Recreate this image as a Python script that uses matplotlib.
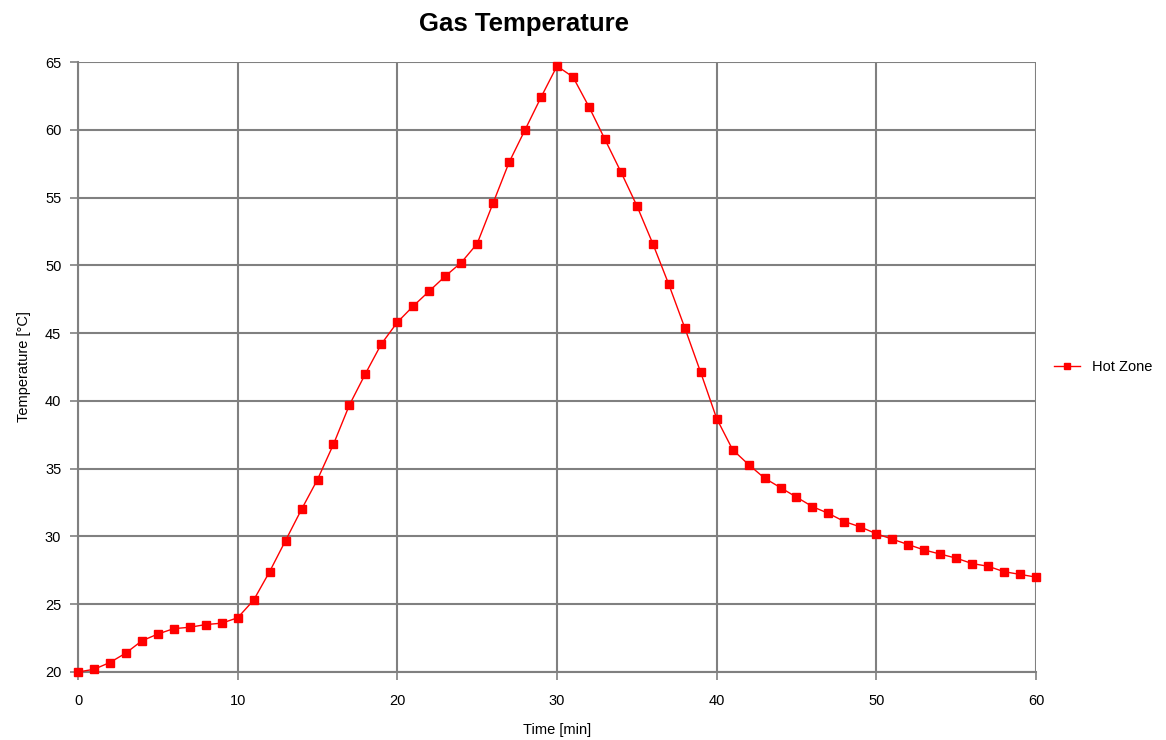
import numpy as np
import matplotlib.pyplot as plt

plt.rcParams['font.family'] = ['Liberation Sans', 'DejaVu Sans']

time_min = list(range(0, 61))
hot_zone = [
    20.0, 20.2, 20.7, 21.4, 22.3, 22.8, 23.2, 23.3, 23.5, 23.6,
    24.0, 25.3, 27.4, 29.7, 32.0, 34.2, 36.8, 39.7, 42.0, 44.2,
    45.8, 47.0, 48.1, 49.2, 50.2, 51.6, 54.6, 57.6, 60.0, 62.4,
    64.7, 63.9, 61.7, 59.3, 56.9, 54.4, 51.6, 48.6, 45.4, 42.1,
    38.7, 36.4, 35.3, 34.3, 33.6, 32.9, 32.2, 31.7, 31.1, 30.7,
    30.2, 29.8, 29.4, 29.0, 28.7, 28.4, 28.0, 27.8, 27.4, 27.2,
    27.0,
]
x_ticks = [0, 10, 20, 30, 40, 50, 60]
y_ticks = [20, 25, 30, 35, 40, 45, 50, 55, 60, 65]

fig = plt.figure(figsize=(11.66, 7.4), dpi=100)
ax = fig.add_axes([0.0669, 0.0919, 0.8216, 0.8243])

ax.plot(time_min, hot_zone, color="red", lw=1, marker="s", markersize=5.5,
        label="Hot Zone", clip_on=False, zorder=3)

ax.set_xlim(0, 60)
ax.set_ylim(20, 65)
ax.set_xticks(x_ticks)
ax.set_yticks(y_ticks)
ax.grid(True, color="#808080", lw=1.5)
ax.set_axisbelow(True)
for s in ["top", "right"]:
    ax.spines[s].set_visible(False)
for s in ["left", "bottom"]:
    ax.spines[s].set_color("#808080")
    ax.spines[s].set_linewidth(1.5)
ax.tick_params(axis="both", colors="#808080", labelcolor="black",
               labelsize=10.5, length=6, width=1.2)
ax.tick_params(axis="x", pad=10)
ax.tick_params(axis="y", pad=6)

ax.set_xlabel("Time [min]", fontsize=10.5, labelpad=11)
ax.set_ylabel("Temperature [°C]", fontsize=10.5, labelpad=10)
fig.text(524 / 1166, 1 - 24 / 740, "Gas Temperature", fontsize=18.5,
         fontweight="bold", ha="center", va="center")

ax.legend(loc="center left", bbox_to_anchor=(1.005, 0.5), frameon=False,
          fontsize=10.5, handlelength=1.8, markerscale=0.8)

fig.savefig("out.png", dpi=100)
